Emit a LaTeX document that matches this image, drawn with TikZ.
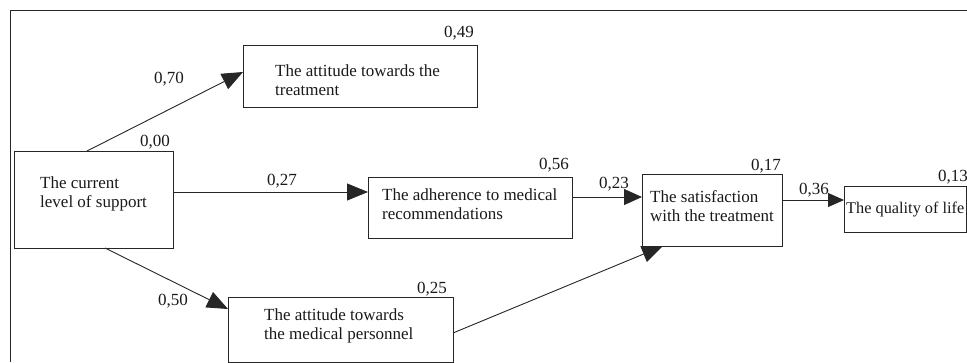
\documentclass[tikz,border=0pt]{standalone}
\usepackage{fontspec}
\setmainfont{Liberation Serif}
\usetikzlibrary{arrows.meta}
\begin{document}
\begin{tikzpicture}[x=1pt,y=-1pt,
  box/.style={draw=black!85,line width=1pt,inner sep=0pt,outer sep=0pt,anchor=north west},
  txt/.style={anchor=north west,inner sep=0pt,align=left,font=\fontsize{17}{19}\selectfont,text=black!90},
  num/.style={anchor=base west,inner sep=0pt,font=\fontsize{17}{19}\selectfont,text=black!90},
  arr/.style={draw=black!85,line width=0.9pt,-{Triangle[length=21pt,width=17pt]}},
  frame/.style={draw=black!85,line width=1pt}]
\useasboundingbox (0,0) rectangle (967,362);
\draw[frame] (10,362) -- (10,10) -- (967,10);
% boxes
\node[box,minimum width=159pt,minimum height=97pt] (A) at (14,151) {};
\node[box,minimum width=234pt,minimum height=62pt] (B) at (243,45) {};
\node[box,minimum width=204pt,minimum height=61pt] (C) at (368,177) {};
\node[box,minimum width=225pt,minimum height=65pt] (D) at (228,297) {};
\node[box,minimum width=140pt,minimum height=72pt] (E) at (642,174) {};
\node[box,minimum width=122pt,minimum height=46pt] (F) at (844,186) {};
% texts (top = first baseline - 12)
\node[txt] (tA) at (40,176) {\rule{0pt}{12pt}The current\\level of support};
\node[txt] (tB) at (275,64) {\rule{0pt}{12pt}The attitude towards the\\treatment};
\node[txt] (tC) at (382,188) {\rule{0pt}{12pt}The adherence to medical\\recommendations};
\node[txt] (tD) at (264,308) {\rule{0pt}{12pt}The attitude towards\\the medical personnel};
\node[txt] (tE) at (650,190) {\rule{0pt}{12pt}The satisfaction\\with the treatment};
\node[txt,font=\fontsize{16.3}{19}\selectfont] (tF) at (846,201) {\rule{0pt}{12pt}The quality of life};
% arrows
\draw[arr] ([xshift=73pt]A.north west) -- ([yshift=-27pt]B.north west);
\draw[arr] ([yshift=-41pt]A.north east) -- ([yshift=-15pt]C.north west);
\draw[arr] ([xshift=91pt]A.south west) -- ([yshift=-12pt]D.north west);
\draw[arr,-{Triangle[length=18pt,width=16pt]}] ([yshift=-20pt]C.north east) -- ([yshift=-23pt]E.north west);
\draw[arr] ([yshift=-36pt]D.north east) -- ([xshift=21pt]E.south west);
\draw[arr,-{Triangle[length=16pt,width=14pt]}] ([yshift=-26pt]E.north east) -- ([yshift=-14pt]F.north west);
% coefficients
\node[num] (n49) at (444,37) {0,49};
\node[num] (n70) at (154,83) {0,70};
\node[num] (n00) at (140,146) {0,00};
\node[num] (n27) at (267,185) {0,27};
\node[num] (n56) at (539,169) {0,56};
\node[num] (n23) at (599,188) {0,23};
\node[num] (n17) at (751,170) {0,17};
\node[num] (n36) at (799,194) {0,36};
\node[num] (n13) at (938,181) {0,13};
\node[num] (n25) at (417,293) {0,25};
\node[num] (n50) at (158,305) {0,50};
\end{tikzpicture}
\end{document}
